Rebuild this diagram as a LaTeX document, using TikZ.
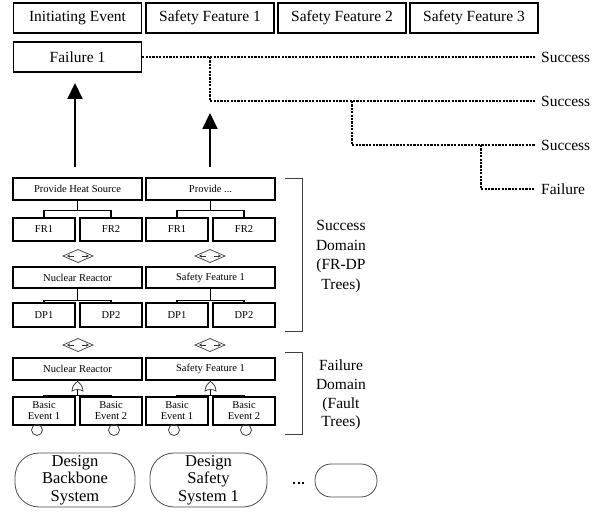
\documentclass[tikz,border=0pt]{standalone}
\usepackage{fontspec}
\setmainfont{Liberation Serif}
\usetikzlibrary{arrows.meta,calc}
\begin{document}
\begin{tikzpicture}[x=1pt,y=-1pt,
  hdr/.style={draw, line width=1.4pt, minimum width=128pt, minimum height=30pt, inner sep=0pt,
    font=\fontsize{15.5}{17}\selectfont},
  fbox/.style={draw, line width=1.4pt, minimum width=129pt, minimum height=22pt, inner sep=0pt,
    font=\fontsize{10.5}{11}\selectfont},
  sbox/.style={draw, line width=1.4pt, minimum width=62pt, minimum height=23pt, inner sep=0pt,
    font=\fontsize{10.5}{11}\selectfont},
  ebox/.style={draw, line width=1.4pt, minimum width=62pt, minimum height=28pt, inner sep=0pt,
    align=center, font=\fontsize{10.5}{11}\selectfont},
  tree/.style={line width=1.6pt},
  seq/.style={line width=1.5pt, dash pattern=on 2.2pt off 1.2pt},
  outc/.style={anchor=west, inner sep=0pt, font=\fontsize{15.5}{17}\selectfont},
  up/.style={line width=2pt, -{Triangle[width=15pt,length=16pt]}},
  bracket/.style={line width=1pt, black!75},
  dom/.style={align=center, inner sep=0pt},
  design/.style={draw=black!70, line width=0.8pt, rounded corners=24pt, align=center, inner sep=0pt,
    minimum width=120pt, minimum height=54pt, font=\fontsize{16.5}{17.5}\selectfont},
  basic/.style={circle, draw=black!75, line width=0.8pt, minimum size=11pt, inner sep=0pt},
  xfer/.pic={
    \draw[black!70, line width=0.8pt] (-15,0) -- (0,-6.5) -- (15,0) -- (0,6.5) -- cycle;
    \draw[black!80, line width=0.8pt, -{Stealth[length=3pt,width=3pt]}] (-4,0) -- (-11,0);
    \draw[black!80, line width=0.8pt, -{Stealth[length=3pt,width=3pt]}] (4,0) -- (11,0);
  },
  orgate/.pic={
    \draw[black!75, line width=0.8pt, fill=white] (-5.5,5) .. controls (-5.5,0) and (-2,-3) .. (0,-4.5)
      .. controls (2,-3) and (5.5,0) .. (5.5,5) .. controls (2,3) and (-2,3) .. cycle;
  }
]
\useasboundingbox (0,0) rectangle (598,513);

% event tree header
\node[hdr] (ie)  at (77.5,18) {Initiating Event};
\node[hdr] (sf1) at (210,18)  {Safety Feature 1};
\node[hdr] (sf2) at (342,18)  {Safety Feature 2};
\node[hdr] (sf3) at (474,18)  {Safety Feature 3};

% sequence outcomes
\node[hdr] (f1) at (77.5,57) {Failure 1};
\node[outc] (s1) at (541,57)  {Success};
\node[outc] (s2) at (541,101) {Success};
\node[outc] (s3) at (541,145) {Success};
\node[outc] (fl) at (541,189) {Failure};

\coordinate (b1) at (210,57);
\coordinate (b2) at (352,101);
\coordinate (b3) at (481,145);
\draw[seq] (f1.east) -- ([xshift=-6pt]s1.west);
\draw[seq] (b1) |- ([xshift=-6pt]s2.west);
\draw[seq] (b2) |- ([xshift=-6pt]s3.west);
\draw[seq] (b3) |- ([xshift=-6pt]fl.west);

% arrows from the design trees up to the event tree
\coordinate (a1s) at (75,167);
\coordinate (a1e) at (75,83);
\coordinate (a2s) at (210,167);
\coordinate (a2e) at (210,113);
\draw[up] (a1s) -- (a1e);
\draw[up] (a2s) -- (a2e);

% ---------- FR-DP trees ----------
\node[fbox] (fa) at (77.5,189)  {Provide Heat Source};
\node[fbox] (fb) at (210.5,189) {Provide ...};
\node[sbox] (fra1) at (44,229.5)  {FR1};
\node[sbox] (fra2) at (111,229.5) {FR2};
\node[sbox] (frb1) at (177,229.5) {FR1};
\node[sbox] (frb2) at (244,229.5) {FR2};

\draw[tree] (fa.south) -- ++(0,10) coordinate (ja);
\draw[tree] (fra1.north) |- (ja) -| (fra2.north);
\draw[tree] (fb.south) -- ++(0,10) coordinate (jb);
\draw[tree] (frb1.north) |- (jb) -| (frb2.north);

\pic at (78,256) {xfer};
\pic at (210,256) {xfer};

\node[fbox, minimum height=21pt] (na) at (77.5,277.5)  {Nuclear Reactor};
\node[fbox, minimum height=21pt] (nb) at (210.5,277.5) {Safety Feature 1};
\node[sbox, minimum height=24pt] (dpa1) at (44,315)  {DP1};
\node[sbox, minimum height=24pt] (dpa2) at (111,315) {DP2};
\node[sbox, minimum height=24pt] (dpb1) at (177,315) {DP1};
\node[sbox, minimum height=24pt] (dpb2) at (244,315) {DP2};

\draw[tree] (na.south) -- ++(0,12) coordinate (jc);
\draw[tree] (dpa1.north) |- (jc) -| (dpa2.north);
\draw[tree] (nb.south) -- ++(0,12) coordinate (jd);
\draw[tree] (dpb1.north) |- (jd) -| (dpb2.north);

\pic at (78,345) {xfer};
\pic at (210,345) {xfer};

% ---------- fault trees ----------
\node[fbox] (ta) at (77.5,369)  {Nuclear Reactor};
\node[fbox] (tb) at (210.5,369) {Safety Feature 1};
\node[ebox] (bea1) at (44,411)  {Basic\\Event 1};
\node[ebox] (bea2) at (111,411) {Basic\\Event 2};
\node[ebox] (beb1) at (177,411) {Basic\\Event 1};
\node[ebox] (beb2) at (244,411) {Basic\\Event 2};

\draw[tree] (ta.south) -- ++(0,15) coordinate (je);
\draw[tree] (bea1.north) |- (je) -| (bea2.north);
\draw[tree] (tb.south) -- ++(0,15) coordinate (jf);
\draw[tree] (beb1.north) |- (jf) -| (beb2.north);
\pic at (77.5,386) {orgate};
\pic at (210.5,386) {orgate};

\node[basic] (ca1) at (37,430)  {};
\node[basic] (ca2) at (114,430) {};
\node[basic] (cb1) at (174,430) {};
\node[basic] (cb2) at (246,430) {};

% domain brackets
\draw[bracket] (285,179) -- (302,179) -- (302,332) -- (285,332);
\draw[bracket] (285,353) -- (302,353) -- (302,435) -- (285,435);
\node[dom, font=\fontsize{15.5}{19.8}\selectfont] (sd) at (341,256.5) {Success\\Domain\\(FR-DP\\Trees)};
\node[dom, font=\fontsize{15.5}{18.8}\selectfont] (fd) at (341,395) {Failure\\Domain\\(Fault\\Trees)};

% designed systems
\node[design] (dsa) at (75,480)    {Design\\Backbone\\System};
\node[design, minimum width=117pt] (dsb) at (208.5,480) {Design\\Safety\\System 1};
\node[design, minimum width=62pt, minimum height=33pt, rounded corners=16pt] (dsc) at (346,480.5) {};
\coordinate (m1) at (293,483);
\coordinate (m2) at (306,483);
\draw[line width=1.6pt, dash pattern=on 2pt off 2.5pt] (m1) -- (m2);
\end{tikzpicture}
\end{document}
